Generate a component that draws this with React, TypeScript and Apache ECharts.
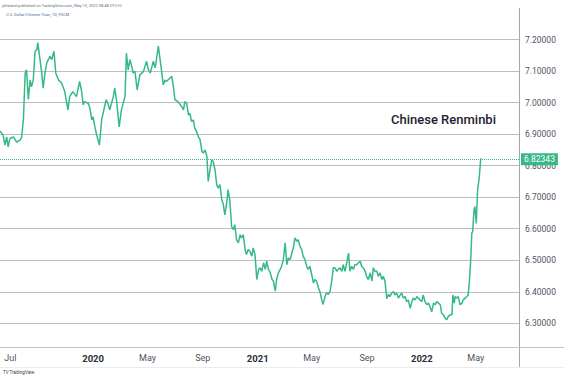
import React, { useEffect, useRef } from "react";
import * as echarts from "echarts";

const dates: string[] = [
  "2019-06-08","2019-06-15","2019-06-19","2019-06-23","2019-06-26","2019-06-30","2019-07-08","2019-07-15","2019-07-22","2019-07-26",
  "2019-07-30","2019-08-03","2019-08-06","2019-08-10","2019-08-14","2019-08-17","2019-08-21","2019-08-25","2019-08-29","2019-08-31",
  "2019-09-03","2019-09-08","2019-09-12","2019-09-16","2019-09-20","2019-09-27","2019-10-01","2019-10-06","2019-10-10","2019-10-16",
  "2019-10-23","2019-10-30","2019-11-06","2019-11-10","2019-11-17","2019-11-25","2019-12-02","2019-12-06","2019-12-10","2019-12-13",
  "2019-12-21","2019-12-25","2019-12-29",
  "2020-01-01","2020-01-05","2020-01-09","2020-01-15","2020-01-20","2020-01-24","2020-01-30","2020-02-04","2020-02-07","2020-02-15",
  "2020-02-18","2020-02-22","2020-02-28","2020-03-04","2020-03-12","2020-03-15","2020-03-19","2020-03-23","2020-03-27","2020-03-30",
  "2020-04-03","2020-04-08","2020-04-14","2020-04-22","2020-04-29","2020-05-03","2020-05-07","2020-05-14","2020-05-18","2020-05-22",
  "2020-05-25","2020-05-29","2020-06-01","2020-06-05","2020-06-09","2020-06-12","2020-06-20","2020-06-24","2020-06-27","2020-07-01",
  "2020-07-08","2020-07-16","2020-07-20","2020-07-23","2020-07-27","2020-07-31","2020-08-03","2020-08-07","2020-08-11","2020-08-14",
  "2020-08-18","2020-08-22","2020-08-26","2020-08-30","2020-09-02","2020-09-06","2020-09-10","2020-09-13","2020-09-17","2020-09-21",
  "2020-09-24","2020-09-28","2020-10-02","2020-10-05","2020-10-09","2020-10-13","2020-10-16","2020-10-20","2020-10-24","2020-10-27",
  "2020-10-31","2020-11-04","2020-11-08","2020-11-11","2020-11-15","2020-11-19","2020-11-23","2020-11-26","2020-11-30","2020-12-04",
  "2020-12-07","2020-12-11","2020-12-15","2020-12-19","2020-12-22","2020-12-26","2020-12-30",
  "2021-01-03","2021-01-06","2021-01-10","2021-01-14","2021-01-18","2021-01-21","2021-01-25","2021-01-29","2021-02-02","2021-02-05",
  "2021-02-09","2021-02-12","2021-02-16","2021-02-20","2021-02-23","2021-02-27","2021-03-03","2021-03-07","2021-03-10","2021-03-14",
  "2021-03-18","2021-03-21","2021-03-25","2021-03-29","2021-04-01","2021-04-05","2021-04-09","2021-04-12","2021-04-16","2021-04-20",
  "2021-04-23","2021-04-27","2021-05-01","2021-05-05","2021-05-08","2021-05-12","2021-05-16","2021-05-20","2021-05-23","2021-05-26",
  "2021-05-31","2021-06-03","2021-06-07","2021-06-11","2021-06-15","2021-06-18","2021-06-22","2021-06-26","2021-06-29","2021-07-03",
  "2021-07-07","2021-07-10","2021-07-14","2021-07-18","2021-07-22","2021-07-25","2021-07-29","2021-08-02","2021-08-05","2021-08-09",
  "2021-08-13","2021-08-17","2021-08-20","2021-08-24","2021-08-28","2021-08-31","2021-09-04","2021-09-08","2021-09-12","2021-09-15",
  "2021-09-19","2021-09-23","2021-09-26","2021-09-30","2021-10-04","2021-10-07","2021-10-11","2021-10-15","2021-10-19","2021-10-22",
  "2021-10-26","2021-10-30","2021-11-02","2021-11-06","2021-11-10","2021-11-14","2021-11-17","2021-11-21","2021-11-25","2021-11-28",
  "2021-12-02","2021-12-06","2021-12-10","2021-12-13","2021-12-17","2021-12-21","2021-12-24","2021-12-28",
  "2022-01-01","2022-01-04","2022-01-08","2022-01-12","2022-01-16","2022-01-19","2022-01-23","2022-01-27","2022-01-31","2022-02-03",
  "2022-02-07","2022-02-11","2022-02-14","2022-02-18","2022-02-22","2022-02-25","2022-03-01","2022-03-05","2022-03-09","2022-03-11",
  "2022-03-14","2022-03-16","2022-03-20","2022-03-23","2022-03-27","2022-03-31","2022-04-03","2022-04-07","2022-04-11","2022-04-14",
  "2022-04-17","2022-04-20","2022-04-22","2022-04-24","2022-04-27","2022-04-29","2022-05-02","2022-05-03","2022-05-05","2022-05-08",
  "2022-05-09","2022-05-12"
];

const usdCnh: number[] = [
  6.910,6.897,6.865,6.891,6.860,6.886,6.891,6.875,6.880,6.890,
  6.945,7.094,7.104,7.010,7.072,7.050,7.072,7.163,7.168,7.190,
  7.157,7.104,7.046,7.094,7.126,7.147,7.136,7.163,7.094,7.072,
  7.062,7.035,6.977,7.019,7.035,7.019,7.067,7.040,6.993,7.003,
  6.998,6.982,6.945,
  6.955,6.923,6.897,6.865,6.945,6.971,7.009,6.993,6.977,7.019,
  7.046,7.009,6.923,6.977,7.019,7.157,7.104,7.136,7.115,7.094,
  7.099,7.040,7.088,7.099,7.131,7.104,7.094,7.131,7.110,7.147,
  7.179,7.136,7.104,7.056,7.072,7.067,7.078,7.083,7.056,7.009,
  7.003,6.987,6.977,7.003,6.998,6.961,6.966,6.940,6.945,6.919,
  6.908,6.892,6.882,6.845,6.840,6.850,6.829,6.750,6.787,6.819,
  6.813,6.787,6.739,6.729,6.740,6.692,6.681,6.644,6.681,6.724,
  6.690,6.607,6.597,6.613,6.565,6.555,6.581,6.571,6.581,6.534,
  6.518,6.534,6.528,6.513,6.539,6.518,6.439,
  6.471,6.476,6.465,6.492,6.471,6.497,6.471,6.460,6.439,6.434,
  6.402,6.439,6.460,6.471,6.481,6.502,6.555,6.486,6.507,6.502,
  6.523,6.539,6.571,6.560,6.565,6.544,6.534,6.513,6.502,6.481,
  6.471,6.481,6.455,6.428,6.439,6.434,6.413,6.397,6.376,6.360,
  6.386,6.397,6.392,6.402,6.439,6.476,6.476,6.465,6.471,6.476,
  6.465,6.486,6.465,6.492,6.523,6.465,6.481,6.471,6.486,6.486,
  6.492,6.497,6.481,6.476,6.465,6.449,6.439,6.460,6.434,6.476,
  6.465,6.465,6.449,6.460,6.439,6.449,6.434,6.378,6.392,6.385,
  6.396,6.401,6.390,6.396,6.380,6.390,6.396,6.380,6.385,6.369,
  6.374,6.348,6.369,6.380,6.374,6.385,6.380,6.374,
  6.369,6.390,6.369,6.359,6.364,6.353,6.337,6.364,6.359,6.369,
  6.364,6.359,6.332,6.327,6.316,6.311,6.322,6.327,6.327,6.390,
  6.364,6.385,6.380,6.385,6.359,6.364,6.374,6.380,6.385,6.390,
  6.438,6.512,6.586,6.591,6.660,6.670,6.617,6.654,6.723,6.755,
  6.770,6.82343
];

const xTickDates: string[] = [
  "2019-07-01","2020-01-01","2020-05-01","2020-09-01","2021-01-01",
  "2021-05-01","2021-09-01","2022-01-01","2022-05-01"
];
const monthNames: string[] = ["Jan","Feb","Mar","Apr","May","Jun","Jul","Aug","Sep","Oct","Nov","Dec"];

const X_MIN = "2019-06-08";
const X_MAX = "2022-08-05";
const Y_MIN = 6.225;
const Y_MAX = 7.3;

const LINE_COLOR = "#36b987";
const FONT = "Roboto, 'Noto Sans', sans-serif";

function toTime(s: string): number {
  const [y, m, d] = s.split("-").map(Number);
  return new Date(y, m - 1, d).getTime();
}

export default function App() {
  const ref = useRef<HTMLDivElement>(null);

  useEffect(() => {
    if (!ref.current) return;
    const chart = echarts.init(ref.current, undefined, { renderer: "svg" });
    const data = dates.map((d, i) => [toTime(d), usdCnh[i]]);
    const last = usdCnh[usdCnh.length - 1];

    const option: any = {
      animation: false,
      backgroundColor: "#ffffff",
      grid: { left: 0, right: 45, top: 8, bottom: 31, containLabel: false, outerBoundsMode: "none" },
      xAxis: {
        type: "value",
        min: toTime(X_MIN),
        max: toTime(X_MAX),
        axisLine: { show: false },
        axisTick: { show: false },
        splitLine: { show: false },
        axisLabel: {
          customValues: xTickDates.map(toTime),
          margin: 6,
          fontFamily: FONT,
          fontSize: 9,
          color: "#4a4a4a",
          formatter: (v: number) => {
            const dt = new Date(v);
            return dt.getMonth() === 0
              ? "{y|" + dt.getFullYear() + "}"
              : "{m|" + monthNames[dt.getMonth()] + "}";
          },
          rich: {
            y: { fontFamily: FONT, fontSize: 9.5, fontWeight: "bold", color: "#2a2e39" },
            m: { fontFamily: FONT, fontSize: 9, color: "#50535e" },
          },
        },
      },
      yAxis: {
        type: "value",
        position: "right",
        min: Y_MIN,
        max: Y_MAX,
        minInterval: 0.1,
        maxInterval: 0.1,
        axisLine: { show: false },
        axisTick: { show: false },
        splitLine: {
          show: true,
          showMinLine: false,
          showMaxLine: false,
          lineStyle: { color: "#bdbdbd", width: 1 },
        },
        axisLabel: {
          showMinLabel: false,
          showMaxLabel: false,
          margin: 6,
          fontFamily: FONT,
          fontSize: 8.5,
          color: "#50535e",
          formatter: (v: number) => v.toFixed(5),
        },
      },
      series: [
        {
          type: "line",
          data,
          showSymbol: false,
          symbol: "none",
          lineStyle: { color: LINE_COLOR, width: 1.5 },
          markLine: {
            silent: true,
            symbol: "none",
            animation: false,
            lineStyle: { type: "dotted", color: LINE_COLOR, width: 1 },
            label: {
              position: "end",
              distance: 2,
              formatter: last.toFixed(5),
              backgroundColor: LINE_COLOR,
              color: "#ffffff",
              fontFamily: FONT,
              fontSize: 8.5,
              padding: [2, 3, 1, 3],
            },
            data: [{ yAxis: last }],
          },
        },
      ],
      graphic: [
        { type: "line", shape: { x1: 519.5, y1: 8, x2: 519.5, y2: 368 }, style: { stroke: "#a3a6af", lineWidth: 1 } },
        { type: "line", shape: { x1: 0, y1: 347.5, x2: 564, y2: 347.5 }, style: { stroke: "#c3c3c3", lineWidth: 1 } },
        { type: "line", shape: { x1: 0, y1: 367.5, x2: 564, y2: 367.5 }, style: { stroke: "#ececec", lineWidth: 1 } },
        {
          type: "text", left: 2, top: 3,
          style: { text: "jdilsland published on TradingView.com, May 13, 2022 08:48 UTC+2", fontFamily: FONT, fontSize: 4, fill: "#6a6d78" },
        },
        {
          type: "text", left: 6, top: 12,
          style: { text: "U.S. Dollar/Chinese Yuan, 1D, FXCM", fontFamily: FONT, fontSize: 4, fill: "#4f6f9a" },
        },
        {
          type: "text", left: 391, top: 113,
          style: { text: "Chinese Renminbi", fontFamily: FONT, fontSize: 13, fontWeight: 500, fill: "#1e222d" },
        },
        {
          type: "text", left: 3, top: 370,
          style: { text: "TV TradingView", fontFamily: FONT, fontSize: 4.5, fill: "#3a3d46" },
        },
      ],
    };

    chart.setOption(option);
    return () => chart.dispose();
  }, []);

  return (
    <div
      ref={ref}
      style={{ position: "fixed", left: 0, top: 0, width: 564, height: 378 }}
    />
  );
}
